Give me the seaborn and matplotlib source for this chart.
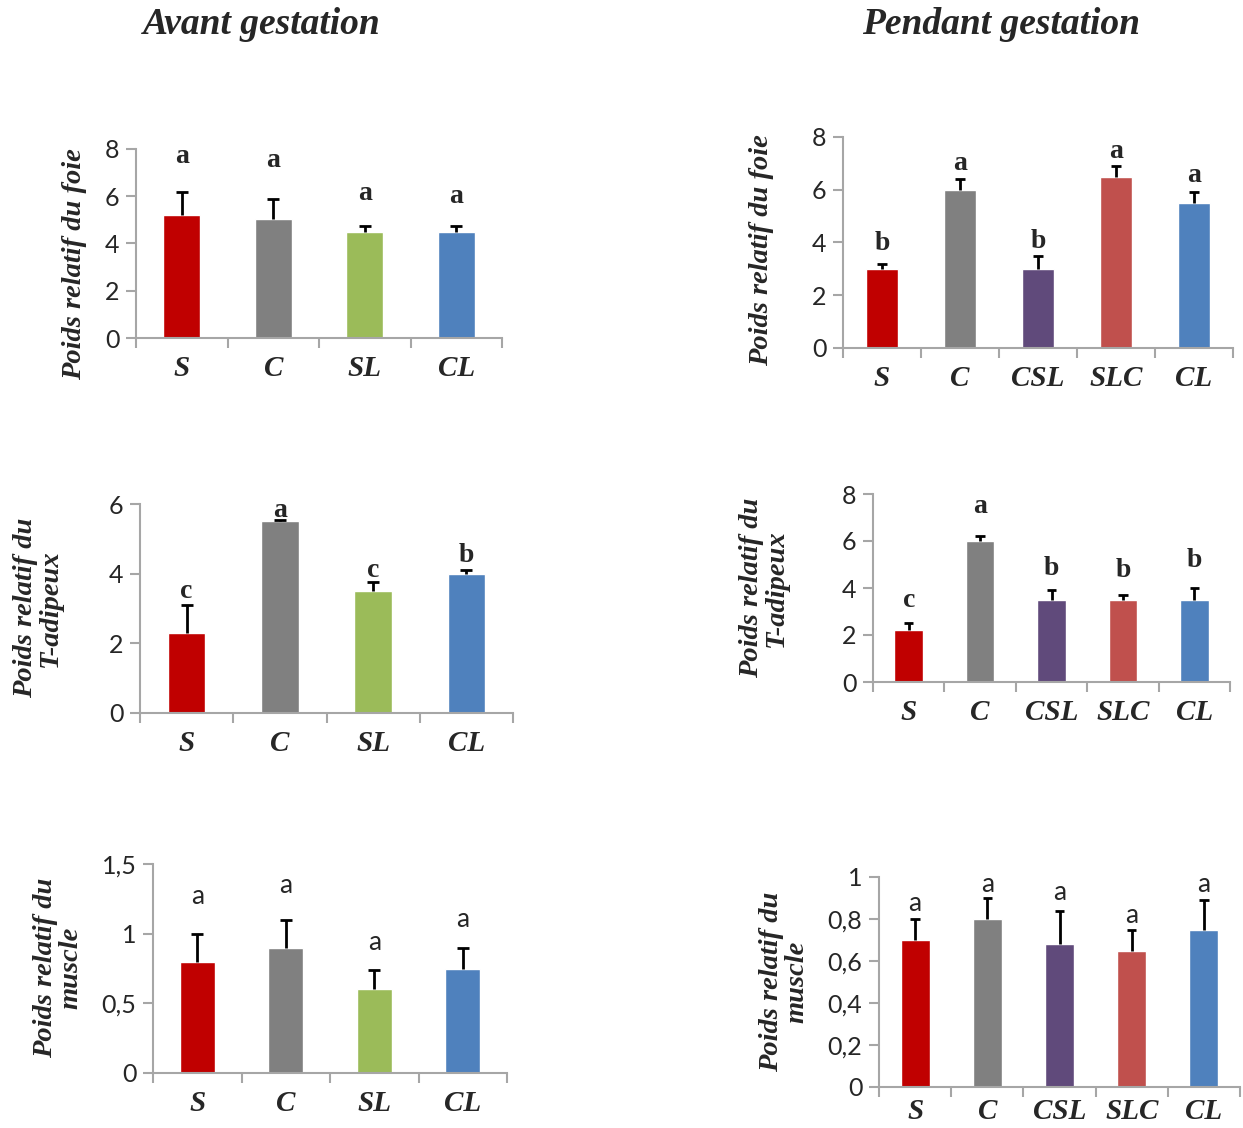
import numpy as np
import pandas as pd
import matplotlib
matplotlib.use("Agg")
import matplotlib.pyplot as plt
import seaborn as sns

# Groupes et couleurs
groups_avant = ["S", "C", "SL", "CL"]
groups_pendant = ["S", "C", "CSL", "SLC", "CL"]
colors_avant = ["#C00000", "#808080", "#9BBB59", "#4F81BD"]
colors_pendant = ["#C00000", "#808080", "#604A7B", "#C0504D", "#4F81BD"]

# Foie
foie_avant = [5.2, 5.05, 4.5, 4.5]
foie_avant_err = [1.0, 0.85, 0.25, 0.25]
foie_avant_let = ["a", "a", "a", "a"]
foie_pendant = [3.0, 6.0, 3.0, 6.5, 5.5]
foie_pendant_err = [0.2, 0.4, 0.5, 0.4, 0.4]
foie_pendant_let = ["b", "a", "b", "a", "a"]

# Tissu adipeux
adip_avant = [2.3, 5.5, 3.5, 4.0]
adip_avant_err = [0.8, 0.05, 0.25, 0.1]
adip_avant_let = ["c", "a", "c", "b"]
adip_pendant = [2.2, 6.0, 3.5, 3.5, 3.5]
adip_pendant_err = [0.3, 0.2, 0.4, 0.2, 0.5]
adip_pendant_let = ["c", "a", "b", "b", "b"]

# Muscle
musc_avant = [0.8, 0.9, 0.6, 0.75]
musc_avant_err = [0.2, 0.2, 0.14, 0.15]
musc_avant_let = ["a", "a", "a", "a"]
musc_pendant = [0.70, 0.80, 0.68, 0.65, 0.75]
musc_pendant_err = [0.10, 0.10, 0.16, 0.10, 0.14]
musc_pendant_let = ["a", "a", "a", "a", "a"]

# hauteur des lettres de significativite (unites de l'axe)
foie_avant_ly = [7.4, 7.25, 5.85, 5.7]
foie_pendant_ly = [3.7, 6.75, 3.8, 7.2, 6.3]
adip_avant_ly = [3.3, 5.63, 3.9, 4.34]
adip_pendant_ly = [3.2, 7.2, 4.55, 4.45, 4.9]
musc_avant_ly = [1.21, 1.29, 0.88, 1.05]
musc_pendant_ly = [0.84, 0.93, 0.89, 0.78, 0.93]

sns.set_style("white")
plt.rcParams["font.family"] = ["Lato", "DejaVu Sans"]

W, H = 1243, 1128
fig = plt.figure(figsize=(W / 100, H / 100), dpi=100)
serif = "Liberation Serif"
axis_grey = "#A6A6A6"


def panel(box, groups, vals, errs, letters, let_y, colors, ymax, yticks,
          ylabel, label_x, label_y, bold_letters=True, xpad=12):
    left, top, right, bottom = box
    ax = fig.add_axes([left / W, (H - bottom) / H, (right - left) / W, (bottom - top) / H])
    df = pd.DataFrame({"grp": groups, "val": vals})
    sns.barplot(data=df, x="grp", y="val", hue="grp", palette=colors,
                width=0.4, legend=False, ax=ax, saturation=1)
    x = np.arange(len(groups))
    tops = np.array(vals) + np.array(errs)
    # barres d'erreur vers le haut seulement
    ax.vlines(x, vals, tops, color="black", lw=2, zorder=3)
    ax.hlines(tops, x - 0.065, x + 0.065, color="black", lw=2, zorder=3)
    for xi, t, ly in zip(x, letters, let_y):
        if bold_letters:
            ax.text(xi, ly, t, ha="center", va="baseline", fontsize=20,
                    fontweight="bold", family=serif)
        else:
            ax.text(xi, ly, t, ha="center", va="baseline", fontsize=19)
    ax.set_xlim(-0.5, len(groups) - 0.5)
    ax.set_ylim(0, ymax)
    ax.set_yticks(yticks)
    ax.set_yticklabels([("%g" % v).replace(".", ",") for v in yticks], fontsize=18)
    ax.set_xticks(np.arange(len(groups) + 1) - 0.5)
    ax.set_xticklabels([])
    ax.set_xticks(x, minor=True)
    ax.set_xticklabels(groups, minor=True, fontsize=21, fontweight="bold",
                       fontstyle="italic", family=serif)
    ax.tick_params(axis="x", which="minor", length=0, pad=xpad)
    ax.tick_params(axis="both", which="major", length=7, width=1.5,
                   color=axis_grey, direction="out")
    ax.tick_params(axis="y", pad=5)
    ax.tick_params(left=True, bottom=True)
    sns.despine(ax=ax)
    for s in ["left", "bottom"]:
        ax.spines[s].set_color(axis_grey)
        ax.spines[s].set_linewidth(1.5)
    ax.set_xlabel("")
    ax.set_ylabel("")
    fig.text(label_x / W, 1 - label_y / H, ylabel, rotation=90, ha="center",
             va="center", multialignment="center", fontsize=20.5,
             fontweight="bold", fontstyle="italic", family=serif, linespacing=1.0)
    return ax


panel((136, 149, 502, 338), groups_avant, foie_avant, foie_avant_err,
      foie_avant_let, foie_avant_ly, colors_avant, 8, [0, 2, 4, 6, 8],
      "Poids relatif du foie", 75, 264)
panel((843, 137, 1233, 348), groups_pendant, foie_pendant, foie_pendant_err,
      foie_pendant_let, foie_pendant_ly, colors_pendant, 8, [0, 2, 4, 6, 8],
      "Poids relatif du foie", 762, 250)
panel((140, 504, 513, 713), groups_avant, adip_avant, adip_avant_err,
      adip_avant_let, adip_avant_ly, colors_avant, 6, [0, 2, 4, 6],
      "Poids relatif du\nT-adipeux", 38, 608)
panel((873, 494, 1230, 682), groups_pendant, adip_pendant, adip_pendant_err,
      adip_pendant_let, adip_pendant_ly, colors_pendant, 8, [0, 2, 4, 6, 8],
      "Poids relatif du\nT-adipeux", 764, 588)
panel((153, 864, 507, 1073), groups_avant, musc_avant, musc_avant_err,
      musc_avant_let, musc_avant_ly, colors_avant, 1.5, [0, 0.5, 1, 1.5],
      "Poids relatif du\nmuscle", 58, 968, bold_letters=False)
panel((879, 877, 1240, 1087), groups_pendant, musc_pendant, musc_pendant_err,
      musc_pendant_let, musc_pendant_ly, colors_pendant, 1, [0, 0.2, 0.4, 0.6, 0.8, 1],
      "Poids relatif du\nmuscle", 784, 982, bold_letters=False, xpad=8)

fig.text(262 / W, 1 - 25 / H, "Avant gestation", ha="center", va="center",
         fontsize=27, fontweight="bold", fontstyle="italic", family=serif)
fig.text(1001 / W, 1 - 25 / H, "Pendant gestation", ha="center", va="center",
         fontsize=27, fontweight="bold", fontstyle="italic", family=serif)

fig.savefig("out.png", dpi=100, facecolor="white")
